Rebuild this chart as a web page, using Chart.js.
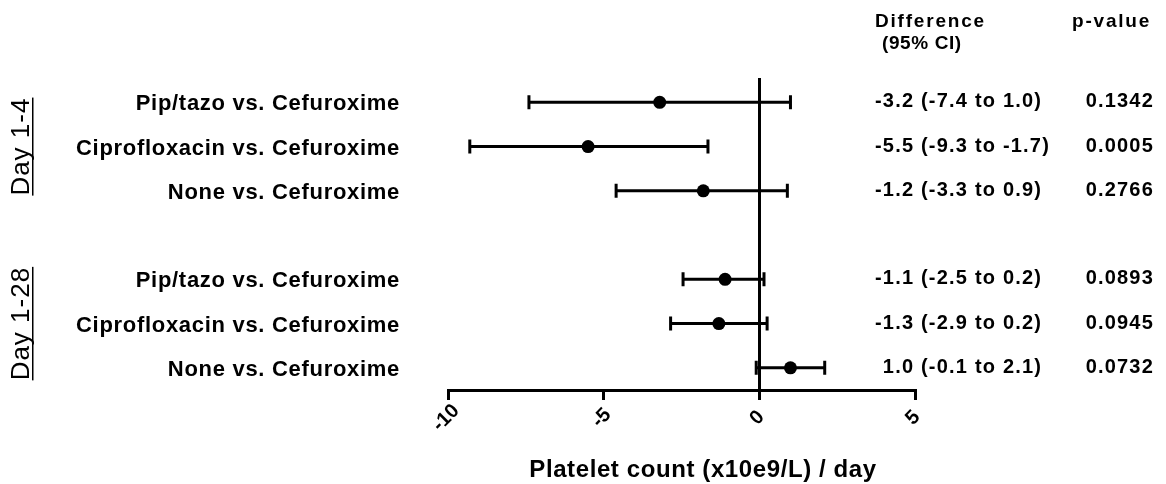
<!DOCTYPE html>
<html>
<head>
<meta charset="utf-8">
<script src="https://cdn.jsdelivr.net/npm/chart.js@4.4.1/dist/chart.umd.min.js"></script>
<style>
  html, body { margin: 0; padding: 0; background: #fff; }
</style>
</head>
<body>
<canvas id="forest" width="1166" height="484"></canvas>
<script>
// rows 1-3 = Day 1-4, rows 5-7 = Day 1-28 (row 4 left empty as a gap)
const comparisons = ['Pip/tazo vs. Cefuroxime', 'Ciprofloxacin vs. Cefuroxime', 'None vs. Cefuroxime',
  'Pip/tazo vs. Cefuroxime', 'Ciprofloxacin vs. Cefuroxime', 'None vs. Cefuroxime'];
const rows = [1, 2, 3, 5, 6, 7];
const estimate = [-3.2, -5.5, -1.8, -1.1, -1.3, 1.0];
const lower = [-7.4, -9.3, -4.6, -2.45, -2.85, -0.1];
const upper = [1.0, -1.65, 0.9, 0.15, 0.25, 2.1];
const diffEst = ['-3.2', '-5.5', '-1.2', '-1.1', '-1.3', '1.0'];
const diffCI = ['(-7.4 to 1.0)', '(-9.3 to -1.7)', '(-3.3 to 0.9)', '(-2.5 to 0.2)', '(-2.9 to 0.2)', '(-0.1 to 2.1)'];
const pValues = ['0.1342', '0.0005', '0.2766', '0.0893', '0.0945', '0.0732'];
const xTicks = [-10, -5, 0, 5];
const periods = ['Day 1-4', 'Day 1-28'];
const periodRows = [2, 6];

const FONT = '"Liberation Sans", Arial, Helvetica, sans-serif';

// whiskers with end caps
const errorBars = {
  id: 'errorBars',
  beforeDatasetsDraw(chart) {
    const { ctx, scales: { x, y } } = chart;
    ctx.save();
    ctx.strokeStyle = '#000';
    ctx.lineWidth = 3;
    rows.forEach((r, i) => {
      const py = y.getPixelForValue(r);
      const x0 = x.getPixelForValue(lower[i]);
      const x1 = x.getPixelForValue(upper[i]);
      ctx.beginPath();
      ctx.moveTo(x0, py); ctx.lineTo(x1, py);
      ctx.moveTo(x0, py - 7); ctx.lineTo(x0, py + 7);
      ctx.moveTo(x1, py - 7); ctx.lineTo(x1, py + 7);
      ctx.stroke();
    });
    ctx.restore();
  }
};

// all the text around the plot
const forestText = {
  id: 'forestText',
  afterDraw(chart) {
    const { ctx, scales: { x, y } } = chart;
    ctx.save();
    ctx.fillStyle = '#000';

    // comparison names
    ctx.font = 'bold 22px ' + FONT;
    ctx.letterSpacing = '0.7px';
    ctx.textAlign = 'right';
    ctx.textBaseline = 'alphabetic';
    rows.forEach((r, i) => {
      ctx.fillText(comparisons[i], 400, y.getPixelForValue(r) + 8);
    });

    // period labels, vertical and underlined
    ctx.font = '26px ' + FONT;
    ctx.letterSpacing = '1px';
    periods.forEach((p, i) => {
      const cy = y.getPixelForValue(periodRows[i]);
      const w = ctx.measureText(p).width;
      ctx.save();
      ctx.translate(29, cy);
      ctx.rotate(-Math.PI / 2);
      ctx.textAlign = 'center';
      ctx.fillText(p, 0, 0);
      ctx.fillRect(-w / 2, 3, w, 1.5);
      ctx.restore();
    });

    // headers
    ctx.textAlign = 'left';
    ctx.font = 'bold 19px ' + FONT;
    ctx.letterSpacing = '1.8px';
    ctx.fillText('Difference', 875, 27);
    ctx.fillText('p-value', 1072, 27);
    ctx.letterSpacing = '0.6px';
    ctx.fillText('(95% CI)', 882, 49);

    // difference and p-value columns
    ctx.font = 'bold 20px ' + FONT;
    ctx.letterSpacing = '1.2px';
    rows.forEach((r, i) => {
      const by = y.getPixelForValue(r) + 5;
      const w = ctx.measureText(diffEst[i] + ' ').width;
      ctx.textAlign = 'left';
      ctx.fillText(diffEst[i], 921 - w, by);
      ctx.fillText(diffCI[i], 921, by);
      ctx.textAlign = 'right';
      ctx.fillText(pValues[i], 1154, by);
    });

    // rotated x tick labels
    ctx.font = 'bold 20px ' + FONT;
    ctx.letterSpacing = '0px';
    ctx.textAlign = 'center';
    ctx.textBaseline = 'middle';
    xTicks.forEach(v => {
      ctx.save();
      ctx.translate(x.getPixelForValue(v) - 2, 418);
      ctx.rotate(-Math.PI / 4);
      ctx.fillText(String(v), 0, 0);
      ctx.restore();
    });

    // axis title
    ctx.font = 'bold 24px ' + FONT;
    ctx.letterSpacing = '0.6px';
    ctx.textBaseline = 'alphabetic';
    ctx.fillText('Platelet count (x10e9/L) / day', 703, 477);

    ctx.letterSpacing = '0px';
    ctx.restore();
  }
};

new Chart(document.getElementById('forest'), {
  type: 'scatter',
  data: {
    datasets: [{
      data: estimate.map((v, i) => ({ x: v, y: rows[i] })),
      pointRadius: 6.5,
      pointHoverRadius: 6.5,
      backgroundColor: '#000',
      borderColor: '#000',
      borderWidth: 0
    }]
  },
  options: {
    responsive: false,
    animation: false,
    layout: { padding: { left: 448, right: 251, top: 78, bottom: 0 } },
    plugins: { legend: { display: false }, tooltip: { enabled: false } },
    scales: {
      x: {
        type: 'linear',
        min: -10,
        max: 5,
        afterBuildTicks: axis => { axis.ticks = xTicks.map(v => ({ value: v })); },
        afterFit: scale => { scale.height = 94; },
        border: { display: true, color: '#000', width: 3 },
        grid: {
          color: c => (c.tick && c.tick.value === 0 ? '#000' : 'rgba(0,0,0,0)'),
          lineWidth: 3,
          drawTicks: true,
          tickLength: 10,
          tickColor: '#000',
          tickWidth: 3
        },
        ticks: { display: false }
      },
      y: { type: 'linear', display: false, min: 0.45, max: 7.5, reverse: true }
    }
  },
  plugins: [errorBars, forestText]
});
</script>
</body>
</html>
